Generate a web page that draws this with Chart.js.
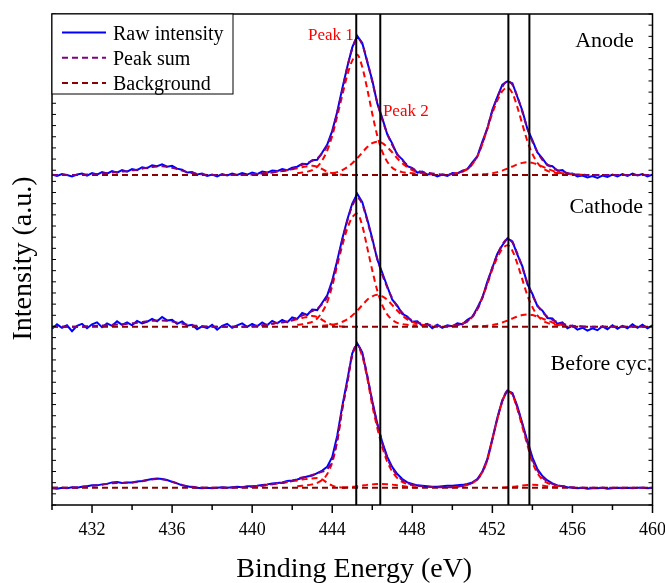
<!DOCTYPE html>
<html>
<head>
<meta charset="utf-8">
<script src="https://cdn.jsdelivr.net/npm/chart.js@4.4.1/dist/chart.umd.min.js"></script>
<style>
  html, body { margin: 0; padding: 0; background: #fff; }
  #wrap { width: 665px; height: 583px; }
</style>
</head>
<body>
<div id="wrap"><canvas id="myChart"></canvas></div>
<script>
// binding energy grid, eV
const energy = [
  430, 430.25, 430.5, 430.75, 431, 431.25, 431.5, 431.75, 432, 432.25, 432.5, 432.75,
  433, 433.25, 433.5, 433.75, 434, 434.25, 434.5, 434.75, 435, 435.25, 435.5, 435.75,
  436, 436.25, 436.5, 436.75, 437, 437.25, 437.5, 437.75, 438, 438.25, 438.5, 438.75,
  439, 439.25, 439.5, 439.75, 440, 440.25, 440.5, 440.75, 441, 441.25, 441.5, 441.75,
  442, 442.25, 442.5, 442.75, 443, 443.25, 443.5, 443.75, 444, 444.25, 444.5, 444.75,
  445, 445.25, 445.5, 445.75, 446, 446.25, 446.5, 446.75, 447, 447.25, 447.5, 447.75,
  448, 448.25, 448.5, 448.75, 449, 449.25, 449.5, 449.75, 450, 450.25, 450.5, 450.75,
  451, 451.25, 451.5, 451.75, 452, 452.25, 452.5, 452.75, 453, 453.25, 453.5, 453.75,
  454, 454.25, 454.5, 454.75, 455, 455.25, 455.5, 455.75, 456, 456.25, 456.5, 456.75,
  457, 457.25, 457.5, 457.75, 458, 458.25, 458.5, 458.75, 459, 459.25, 459.5, 459.75,
  460
];

const panelNames = ['Anode', 'Cathode', 'Before cyc.'];
const panelOffset = [67.2, 36.3, 3.5];      // vertical stacking of the spectra
const refLines = [445.2, 446.4, 452.8, 453.85];
const xTickLabels = [432, 436, 440, 444, 448, 452, 456, 460];

const bgEnergy = [430, 460];
const bgLevel = [0, 0];

// ---- Anode ----
const rawAnode = [
  0.1, -0.2, 0.2, 0.0,   -0.3, 0.1, 0.3, -0.1,   0.4, 0.1, 0.6, 0.3,
  0.8, 0.5, 1.0, 0.7,    1.2, 1.0, 1.6, 1.4,     2.0, 1.8, 2.2, 1.7,
  1.9, 1.3, 1.1, 0.5,    0.6, 0.1, 0.3, -0.2,    0.1, -0.3, 0.2, -0.1,
  0.3, 0.0, 0.4, 0.1,    0.5, 0.2, 0.7, 0.5,     0.9, 0.8, 1.2, 1.0,
  1.5, 1.7, 2.3, 2.2,    3.0, 3.1, 4.6, 6.2,     9.0, 12.9, 17.6, 22.0,
  26.0, 28.3, 26.9, 23.0, 19.3, 14.6, 11.6, 8.3, 6.4, 4.1, 3.2, 1.8,
  1.4, 0.5, 0.7, 0.1,    0.2, -0.3, 0.1, -0.2,   0.4, 0.3, 0.9, 1.2,
  2.6, 3.8, 6.8, 9.5,    13.3, 15.9, 18.4, 19.1, 18.7, 15.9, 13.1, 9.4,
  7.1, 4.6, 3.4, 2.0,    1.8, 0.9, 1.0, 0.2,     0.3, -0.3, -0.1, -0.5,
  -0.2, -0.6, -0.1, -0.4, 0.1, -0.3, 0.2, -0.2,  0.3, -0.1, 0.2, -0.3,
  0.1
];
const sumAnode = [
  0, 0, 0, 0,            0, 0, 0.05, 0.1,        0.15, 0.2, 0.3, 0.4,
  0.5, 0.6, 0.7, 0.8,    0.95, 1.1, 1.3, 1.5,    1.65, 1.75, 1.8, 1.7,
  1.5, 1.2, 0.9, 0.6,    0.4, 0.25, 0.15, 0.05,  0, 0, 0, 0,
  0, 0, 0, 0,            0.1, 0.2, 0.3, 0.4,     0.5, 0.7, 0.8, 1.0,
  1.2, 1.8, 2.1, 2.5,    2.9, 3.4, 4.4, 6.0,     8.75, 12.75, 17.25, 21.9,
  25.7, 27.9, 26.6, 23.2, 19.0, 14.8, 11.3, 8.4, 6.1, 4.3, 3.0, 2.05,
  1.35, 0.9, 0.6, 0.45,  0.3, 0.2, 0.1, 0.1,     0.2, 0.4, 0.7, 1.2,
  2.3, 3.9, 6.45, 9.6,   13.0, 15.8, 18.0, 19.1, 18.4, 16.0, 12.8, 9.5,
  6.8, 4.7, 3.1, 2.15,   1.5, 1.0, 0.7, 0.4,     0.2, 0.1, 0.07, 0,
  0, 0, 0, 0,            0, 0, 0, 0,             0, 0, 0, 0,
  0
];
const anodeS  = [0.1, 0.2, 0.3, 0.4, 0.5, 0.7, 0.8, 1.0, 1.2, 1.4, 1.6, 1.8, 1.9, 1.7, 1.2, 0.7, 0.35, 0.15, 0.05, 0];
const anodeP1 = [0.4, 0.5, 0.7, 1.0, 1.7, 3.0, 5.0, 8.0, 12.0, 16.2, 20.3, 23.3, 24.5, 22.0, 17.5, 12.5, 8.0, 4.8, 2.7, 1.5, 0.9, 0.6, 0.45, 0.35, 0.3];
const anodeP2 = [0.2, 0.3, 0.4, 0.6, 1.0, 1.6, 2.4, 3.4, 4.6, 5.7, 6.5, 6.8, 6.5, 5.7, 4.6, 3.4, 2.4, 1.6, 1.0, 0.6, 0.4, 0.3, 0.2];
const anodeP3 = [0.2, 0.4, 0.7, 1.2, 2.2, 3.8, 6.3, 9.4, 12.6, 15.2, 17.1, 17.8, 16.7, 13.8, 10.3, 6.9, 4.3, 2.5, 1.4, 0.85, 0.55, 0.4, 0.3];
const anodeP4 = [0.07, 0.1, 0.15, 0.23, 0.38, 0.6, 0.91, 1.3, 1.74, 2.17, 2.48, 2.6, 2.48, 2.17, 1.74, 1.3, 0.91, 0.6, 0.38, 0.23, 0.15, 0.1, 0.07];

// ---- Cathode ----
const rawCathode = [
  -0.4, 0.5, -0.2, 0.3,  -0.9, 0.2, 0.6, -0.3,   0.5, 0.9, -0.1, 0.7,
  0.2, 1.1, 0.4, 0.9,    0.3, 1.2, 0.7, 1.0,     1.6, 1.1, 2.0, 1.3,
  1.4, 0.6, 1.1, 0.2,    0.4, -0.5, 0.1, -0.3,   0.4, -0.6, 0.2, 0.6,
  -0.2, 0.3, 0.7, 0.0,   0.6, 0.1, 0.9, 0.3,     1.2, 0.7, 1.4, 0.9,
  1.9, 1.6, 2.8, 2.4,    3.5, 3.4, 4.9, 6.4,     9.4, 13.5, 17.9, 21.8,
  25.1, 27.1, 25.4, 21.9, 18.0, 13.7, 11.0, 8.2, 5.5, 4.3, 2.6, 2.1,
  1.0, 1.1, 0.2, 0.6,    -0.3, 0.4, -0.2, 0.3,   0.1, 0.7, 0.5, 1.4,
  2.0, 3.9, 5.9, 9.2,    12.0, 14.9, 16.6, 18.0, 17.4, 14.7, 12.3, 8.7,
  6.7, 4.2, 3.3, 1.8,    1.7, 0.6, 0.9, -0.3,    0.2, -0.6, -0.2, -0.8,
  -0.3, -0.7, 0.1, -0.5, 0.3, -0.4, 0.2, -0.3,   0.5, -0.2, 0.4, -0.3,
  0.3
];
const sumCathode = [
  0, 0, 0, 0,            0, 0, 0.05, 0.1,        0.15, 0.2, 0.25, 0.3,
  0.4, 0.45, 0.5, 0.6,   0.7, 0.8, 0.95, 1.1,    1.2, 1.3, 1.3, 1.2,
  1.05, 0.85, 0.65, 0.45, 0.3, 0.2, 0.1, 0.05,   0, 0, 0, 0,
  0, 0, 0, 0,            0.1, 0.2, 0.3, 0.4,     0.6, 0.8, 0.9, 1.1,
  1.3, 1.9, 2.3, 2.7,    3.2, 3.7, 4.6, 6.1,     9.1, 13.25, 17.55, 21.5,
  24.6, 26.3, 25.0, 21.6, 17.7, 13.9, 10.6, 8.0, 5.8, 4.1, 2.85, 1.9,
  1.3, 0.9, 0.6, 0.45,   0.3, 0.2, 0.1, 0.1,     0.2, 0.35, 0.65, 1.1,
  2.1, 3.6, 6.0, 8.9,    12.1, 14.7, 16.8, 17.85, 17.2, 14.9, 12.0, 8.9,
  6.4, 4.4, 3.0, 2.05,   1.4, 0.95, 0.65, 0.35,  0.2, 0.1, 0.07, 0,
  0, 0, 0, 0,            0, 0, 0, 0,             0, 0, 0, 0,
  0
];
const cathodeS  = [0.1, 0.2, 0.3, 0.4, 0.6, 0.8, 0.9, 1.1, 1.3, 1.5, 1.8, 2.0, 2.2, 2.0, 1.4, 0.8, 0.4, 0.15, 0.05, 0];
const cathodeP1 = [0.4, 0.5, 0.7, 1.0, 1.7, 3.0, 5.0, 8.3, 12.5, 16.5, 20.0, 22.3, 23.0, 20.6, 16.1, 11.5, 7.4, 4.4, 2.5, 1.4, 0.8, 0.55, 0.4, 0.3, 0.3];
const cathodeP2 = [0.2, 0.3, 0.4, 0.6, 1.0, 1.5, 2.3, 3.3, 4.4, 5.5, 6.2, 6.5, 6.2, 5.5, 4.4, 3.3, 2.3, 1.5, 1.0, 0.6, 0.4, 0.3, 0.2];
const cathodeP3 = [0.2, 0.35, 0.65, 1.1, 2.0, 3.5, 5.9, 8.7, 11.7, 14.1, 15.9, 16.6, 15.5, 12.8, 9.6, 6.4, 4.0, 2.3, 1.3, 0.8, 0.5, 0.35, 0.3];
const cathodeP4 = [0.07, 0.1, 0.14, 0.22, 0.36, 0.58, 0.87, 1.25, 1.68, 2.08, 2.39, 2.5, 2.39, 2.08, 1.68, 1.25, 0.87, 0.58, 0.36, 0.22, 0.14, 0.1, 0.07];

// ---- Before cycling ----
const rawBefore = [
  -0.1, -0.2, 0.0, -0.1, 0.1, 0.0, 0.2, 0.3,     0.5, 0.5, 0.7, 0.8,
  1.1, 1.2, 1.0, 1.1,    1.1, 1.3, 1.4, 1.6,     1.8, 1.9, 1.8, 1.6,
  1.2, 0.9, 0.5, 0.3,    0.1, 0.0, -0.1, 0.0,    -0.1, 0.0, 0.1, 0.0,
  0.1, 0.2, 0.1, 0.3,    0.3, 0.4, 0.6, 0.7,     0.9, 1.0, 1.1, 1.4,
  1.5, 1.7, 2.0, 2.3,    2.5, 3.0, 3.5, 4.3,     6.3, 10.6, 16.6, 21.9,
  27.4, 29.4, 27.6, 22.7, 17.7, 13.1, 9.3, 6.3,  4.2, 2.8, 1.8, 1.1,
  0.8, 0.5, 0.4, 0.3,    0.2, 0.2, 0.3, 0.4,     0.4, 0.5, 0.6, 0.8,
  1.1, 1.8, 3.3, 5.9,    10.0, 14.3, 17.9, 19.8, 19.3, 16.6, 13.1, 9.5,
  6.2, 3.8, 2.4, 1.5,    0.9, 0.5, 0.3, 0.1,     0.0, -0.1, 0.0, -0.2,
  -0.1, -0.1, 0.0, -0.2, -0.1, 0.0, -0.1, 0.0,   -0.1, 0.0, 0.0, -0.1,
  0.0
];
const sumBefore = [
  0, 0, 0, 0,            0.05, 0.1, 0.2, 0.3,    0.4, 0.5, 0.6, 0.8,
  0.95, 1.0, 1.0, 1.05,  1.1, 1.2, 1.35, 1.55,   1.7, 1.8, 1.75, 1.55,
  1.25, 0.9, 0.6, 0.35,  0.2, 0.1, 0.05, 0,      0, 0, 0, 0,
  0.05, 0.1, 0.1, 0.15,  0.2, 0.3, 0.4, 0.6,     0.7, 0.9, 1.0, 1.2,
  1.4, 1.8, 2.1, 2.3,    2.6, 3.0, 3.3, 3.8,     5.65, 9.65, 16.1, 21.4,
  27.2, 29.1, 27.25, 22.9, 17.5, 13.0, 9.1, 6.05, 3.95, 2.5, 1.55, 1.0,
  0.65, 0.45, 0.3, 0.2,  0.15, 0.1, 0.1, 0.1,    0.1, 0.2, 0.35, 0.6,
  1.0, 1.7, 3.2, 5.7,    9.8, 14.0, 17.65, 19.7, 19.1, 16.3, 12.85, 9.25,
  5.8, 3.55, 2.15, 1.3,  0.8, 0.5, 0.35, 0.2,    0.1, 0.05, 0, 0,
  0, 0, 0, 0,            0, 0, 0, 0,             0, 0, 0, 0,
  0
];
const beforeS  = [0.2, 0.3, 0.4, 0.6, 0.7, 0.9, 1.0, 1.2, 1.4, 1.5, 1.7, 1.8, 1.9, 2.0, 1.7, 1.0, 0.45, 0.15, 0.05, 0];
const beforeP1 = [0.3, 0.4, 0.5, 0.7, 1.0, 1.6, 2.8, 5.2, 9.5, 16.0, 21.3, 27.0, 28.8, 26.8, 22.3, 16.8, 12.2, 8.3, 5.3, 3.3, 2.0, 1.2, 0.8, 0.55, 0.4];
const beforeP2 = [0.05, 0.1, 0.2, 0.3, 0.45, 0.6, 0.7, 0.8, 0.8, 0.75, 0.65, 0.5, 0.35, 0.2, 0.1, 0.05];
const beforeP3 = [0.1, 0.2, 0.35, 0.6, 1.0, 1.7, 3.2, 5.7, 9.8, 14.0, 17.6, 19.6, 18.9, 16.0, 12.4, 8.7, 5.2, 3.0, 1.7, 1.0, 0.6, 0.4, 0.3];
const beforeP4 = [0.05, 0.1, 0.2, 0.3, 0.45, 0.55, 0.6, 0.55, 0.45, 0.3, 0.2, 0.1, 0.05];

// [start energy, fitted component]
const anodeParts   = [[440, anodeS], [442.25, anodeP1], [443.5, anodeP2], [450, anodeP3], [451, anodeP4]];
const cathodeParts = [[440, cathodeS], [442.25, cathodeP1], [443.5, cathodeP2], [450, cathodeP3], [451, cathodeP4]];
const beforeParts  = [[440, beforeS], [442.25, beforeP1], [444.5, beforeP2], [450, beforeP3], [452.5, beforeP4]];

const raws = [rawAnode, rawCathode, rawBefore];
const sums = [sumAnode, sumCathode, sumBefore];
const parts = [anodeParts, cathodeParts, beforeParts];

const FONT = '"Liberation Serif", "Times New Roman", serif';
const C_RAW = '#0000ff', C_SUM = '#800080', C_BG = '#8b0000', C_PEAK = '#ff0000';

function line(label, xs, ys, off, color, dash, order, smooth) {
    return {
        label: label,
        data: ys.map((v, i) => ({x: xs[i], y: v + off})),
        borderColor: color,
        borderWidth: 2,
        borderDash: dash,
        pointRadius: 0,
        fill: false,
        tension: 0,
        cubicInterpolationMode: smooth ? 'monotone' : 'default',
        order: order
    };
}

var datasets = [];
for (var p = 0; p < 3; p++) {
    var off = panelOffset[p];
    datasets.push(line('Raw intensity', energy, raws[p], off, C_RAW, [], 4, false));
    parts[p].forEach(function (pc) {
        var i0 = energy.indexOf(pc[0]);
        datasets.push(line('Peak', energy.slice(i0), pc[1], off, C_PEAK, [6, 4], 3, true));
    });
    datasets.push(line('Background', bgEnergy, bgLevel, off, C_BG, [6, 4], 2, false));
    datasets.push(line('Peak sum', energy, sums[p], off, C_SUM, [6, 4], 1, true));
}

// text positions in data units (energy, intensity)
const labelPos = [[459.07, 93.3], [459.52, 59.5], [459.97, 27.5]];
const peakLabels = [['Peak 1', 445.08, 94.7, 'right'], ['Peak 2', 446.53, 79.2, 'left']];

const decor = {
    id: 'decor',
    afterDatasetsDraw(chart) {
        const ctx = chart.ctx, a = chart.chartArea;
        const xs = chart.scales.x, ys = chart.scales.y;
        ctx.save();
        ctx.setLineDash([]);
        ctx.strokeStyle = '#000';

        // reference lines
        ctx.lineWidth = 2;
        refLines.forEach(function (e) {
            var px = xs.getPixelForValue(e);
            ctx.beginPath(); ctx.moveTo(px, a.top); ctx.lineTo(px, a.bottom); ctx.stroke();
        });

        // frame
        ctx.lineWidth = 1.5;
        ctx.strokeRect(a.left, a.top, a.right - a.left, a.bottom - a.top);

        // x ticks + labels
        ctx.fillStyle = '#000';
        ctx.font = '18px ' + FONT;
        ctx.textAlign = 'center';
        ctx.textBaseline = 'alphabetic';
        xs.ticks.forEach(function (t) {
            var px = xs.getPixelForValue(t.value);
            var major = xTickLabels.indexOf(t.value) >= 0;
            ctx.beginPath(); ctx.moveTo(px, a.bottom); ctx.lineTo(px, a.bottom + (major ? 8 : 5)); ctx.stroke();
            if (major) ctx.fillText(String(t.value), px, a.bottom + 30);
        });

        // y ticks, inward on both sides
        ctx.lineWidth = 1;
        ys.ticks.forEach(function (t) {
            var py = ys.getPixelForValue(t.value);
            ctx.beginPath();
            ctx.moveTo(a.left, py); ctx.lineTo(a.left + 4, py);
            ctx.moveTo(a.right, py); ctx.lineTo(a.right - 4, py);
            ctx.stroke();
        });

        // axis titles
        ctx.font = '28px ' + FONT;
        ctx.textAlign = 'center';
        ctx.fillText('Binding Energy (eV)', (a.left + a.right) / 2 + 2, 577);
        ctx.save();
        ctx.translate(31, (a.top + a.bottom) / 2 - 1);
        ctx.rotate(-Math.PI / 2);
        ctx.fillText('Intensity (a.u.)', 0, 0);
        ctx.restore();

        // panel names
        ctx.font = '22px ' + FONT;
        ctx.textAlign = 'right';
        panelNames.forEach(function (n, i) {
            ctx.fillText(n, xs.getPixelForValue(labelPos[i][0]), ys.getPixelForValue(labelPos[i][1]));
        });

        // peak labels
        ctx.font = '17px ' + FONT;
        ctx.fillStyle = C_PEAK;
        peakLabels.forEach(function (l) {
            ctx.textAlign = l[3];
            ctx.fillText(l[0], xs.getPixelForValue(l[1]), ys.getPixelForValue(l[2]));
        });

        // legend
        var lx = a.left, ly = a.top;
        ctx.fillStyle = '#fff';
        ctx.fillRect(lx, ly, 181, 80);
        ctx.lineWidth = 1;
        ctx.strokeStyle = '#000';
        ctx.strokeRect(lx, ly, 181, 80);
        var items = [['Raw intensity', C_RAW, []], ['Peak sum', C_SUM, [6, 4]], ['Background', C_BG, [6, 4]]];
        ctx.font = '20px ' + FONT;
        ctx.textAlign = 'left';
        items.forEach(function (it, i) {
            var yy = ly + 18.5 + i * 25.2;
            ctx.strokeStyle = it[1];
            ctx.lineWidth = 2;
            ctx.setLineDash(it[2]);
            ctx.beginPath(); ctx.moveTo(lx + 10, yy); ctx.lineTo(lx + 54, yy); ctx.stroke();
            ctx.setLineDash([]);
            ctx.fillStyle = '#000';
            ctx.fillText(it[0], lx + 61, yy + 7);
        });
        ctx.restore();
    }
};

var ctx = document.getElementById('myChart').getContext('2d');
var chart = new Chart(ctx, {
    type: 'line',
    data: {datasets: datasets},
    options: {
        responsive: true,
        maintainAspectRatio: false,
        animation: false,
        layout: {padding: {top: 14, right: 12.5, left: 0, bottom: 0}},
        plugins: {legend: {display: false}, tooltip: {enabled: false}},
        scales: {
            x: {
                type: 'linear', min: 430, max: 460,
                ticks: {stepSize: 2, display: false},
                grid: {display: false}, border: {display: false},
                afterFit: function (s) { s.height = 78; }
            },
            y: {
                type: 'linear', min: 0, max: 100,
                ticks: {stepSize: 100 / 44, display: false},
                grid: {display: false}, border: {display: false},
                afterFit: function (s) { s.width = 52; }
            }
        }
    },
    plugins: [decor]
});
</script>
</body>
</html>
